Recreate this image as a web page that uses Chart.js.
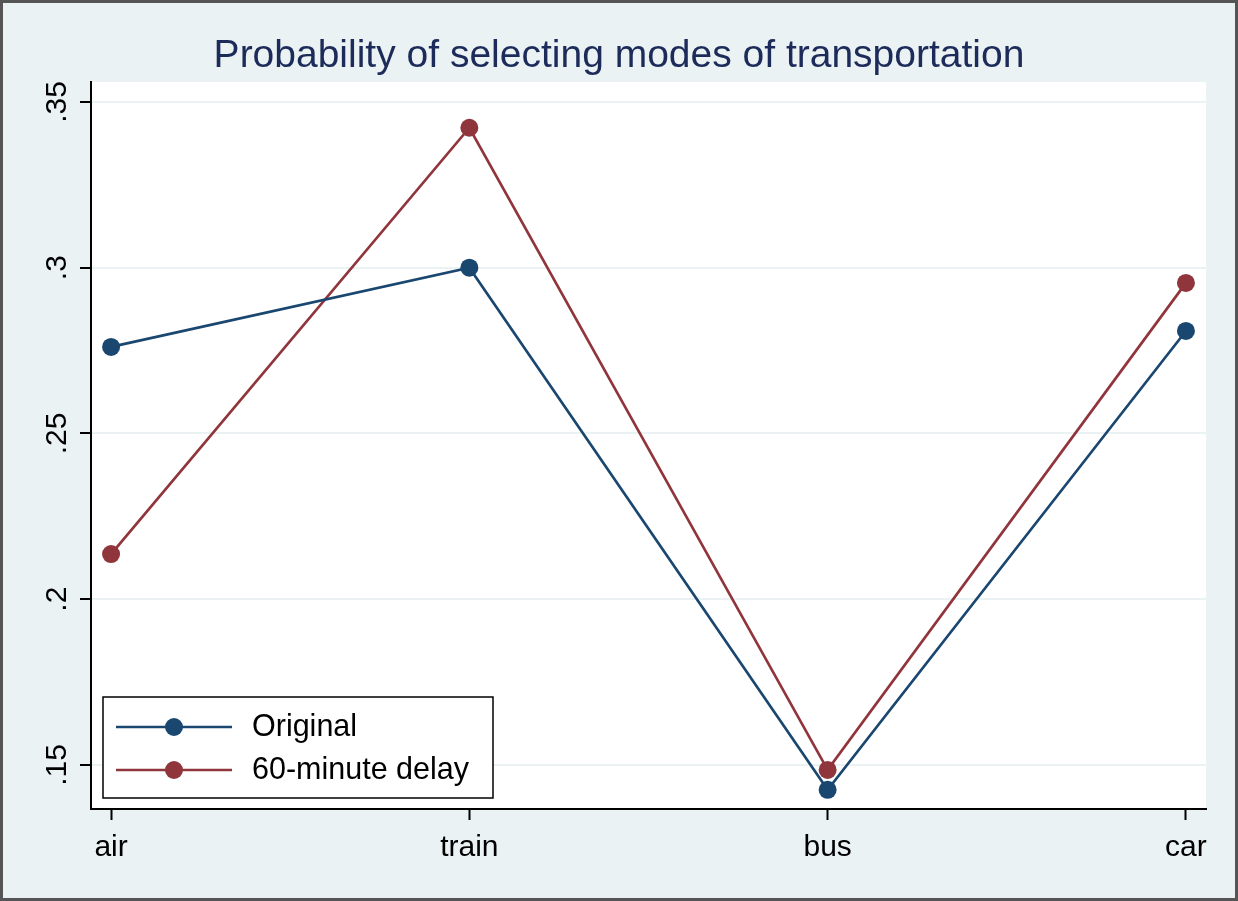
<!DOCTYPE html>
<html lang="en">
  <head>
    <meta charset="UTF-8" />
    <title>Probability of selecting modes of transportation</title>
    <script src="https://cdn.jsdelivr.net/npm/chart.js"></script>
    <style>
      body { margin: 0; background: #fff; }
      #wrap { width: 1238px; height: 901px; }
    </style>
  </head>
  <body>
    <div id="wrap"><canvas id="chart" width="1238" height="901"></canvas></div>
    <script>
      // data
      const modes = ["air", "train", "bus", "car"];
      const original = [0.2761, 0.3, 0.1425, 0.2809];
      const delay60 = [0.2136, 0.3422, 0.1485, 0.2954];
      const yTicks = [0.15, 0.2, 0.25, 0.3, 0.35];
      const yTickLabels = [".15", ".2", ".25", ".3", ".35"];

      const FONT = "Arial, 'Liberation Sans', sans-serif";
      const BLUE = "#1a476f";
      const RED = "#90353b";

      const toPoints = (vals) => vals.map((v, i) => ({ x: i, y: v }));

      // background, plot area, outer frame
      const frame = {
        id: "frame",
        beforeDraw(chart) {
          const { ctx, chartArea: a } = chart;
          ctx.save();
          ctx.fillStyle = "#eaf2f3";
          ctx.fillRect(0, 0, chart.width, chart.height);
          ctx.fillStyle = "#fff";
          ctx.fillRect(a.left, a.top, a.right - a.left, a.bottom - a.top);
          ctx.strokeStyle = "#555";
          ctx.lineWidth = 3;
          ctx.strokeRect(1.5, 1.5, chart.width - 3, chart.height - 3);
          ctx.restore();
        },
        afterDraw(chart) {
          const { ctx } = chart;
          const y = chart.scales.y;
          ctx.save();
          // rotated y tick labels
          ctx.fillStyle = "#000";
          ctx.font = "30px " + FONT;
          ctx.textAlign = "center";
          ctx.textBaseline = "middle";
          y.ticks.forEach((t, i) => {
            ctx.save();
            ctx.translate(58, y.getPixelForValue(t.value));
            ctx.rotate(-Math.PI / 2);
            ctx.fillText(yTickLabels[i], 0, 0);
            ctx.restore();
          });
          // legend box inside plot
          const bx = 103, by = 697, bw = 390, bh = 101;
          ctx.fillStyle = "#fff";
          ctx.fillRect(bx, by, bw, bh);
          ctx.strokeStyle = "#000";
          ctx.lineWidth = 1.5;
          ctx.strokeRect(bx, by, bw, bh);
          ctx.font = "30.5px " + FONT;
          chart.data.datasets.forEach((ds, i) => {
            const ry = 727 + i * 43;
            ctx.strokeStyle = ds.borderColor;
            ctx.lineWidth = 2.5;
            ctx.beginPath();
            ctx.moveTo(116, ry);
            ctx.lineTo(232, ry);
            ctx.stroke();
            ctx.fillStyle = ds.backgroundColor;
            ctx.beginPath();
            ctx.arc(174, ry, 9, 0, Math.PI * 2);
            ctx.fill();
            ctx.fillStyle = "#000";
            ctx.textAlign = "left";
            ctx.fillText(ds.label, 252, ry + 1);
          });
          ctx.restore();
        },
      };

      new Chart(document.getElementById("chart"), {
        type: "line",
        data: {
          datasets: [
            {
              label: "Original",
              data: toPoints(original),
              borderColor: BLUE,
              backgroundColor: BLUE,
              borderWidth: 2.7,
              pointRadius: 9,
              pointBorderWidth: 0,
            },
            {
              label: "60-minute delay",
              data: toPoints(delay60),
              borderColor: RED,
              backgroundColor: RED,
              borderWidth: 2.7,
              pointRadius: 9,
              pointBorderWidth: 0,
            },
          ],
        },
        options: {
          responsive: false,
          animation: false,
          layout: { padding: 0 },
          plugins: {
            legend: { display: false },
            tooltip: { enabled: false },
            title: {
              display: true,
              text: "Probability of selecting modes of transportation",
              color: "#1c2b59",
              font: { family: FONT, size: 39, weight: "normal", lineHeight: 1.2 },
              padding: { top: 33, bottom: 2.2 },
            },
          },
          scales: {
            x: {
              type: "linear",
              min: -0.056,
              max: 3.056,
              afterBuildTicks: (s) => { s.ticks = modes.map((m, i) => ({ value: i })); },
              afterFit: (s) => { s.height = 92; },
              ticks: {
                color: "#000",
                font: { family: FONT, size: 30 },
                padding: 10,
                maxRotation: 0,
                callback: (v) => modes[v],
              },
              grid: { color: "transparent", tickColor: "#000", tickLength: 11, tickWidth: 2 },
              border: { display: true, color: "#000", width: 2 },
            },
            y: {
              min: 0.1367,
              max: 0.356,
              afterBuildTicks: (s) => { s.ticks = yTicks.map((v) => ({ value: v })); },
              afterFit: (s) => { s.width = 91; },
              ticks: { display: false },
              grid: { color: "#eaf2f3", lineWidth: 2, tickColor: "#000", tickLength: 11, tickWidth: 2 },
              border: { display: true, color: "#000", width: 2 },
            },
            // empty right margin so the title stays centred on the whole canvas
            yRight: {
              position: "right",
              min: 0,
              max: 1,
              afterFit: (s) => { s.width = 32; },
              ticks: { display: false },
              grid: { display: false },
              border: { display: false },
            },
          },
        },
        plugins: [frame],
      });
    </script>
  </body>
</html>
